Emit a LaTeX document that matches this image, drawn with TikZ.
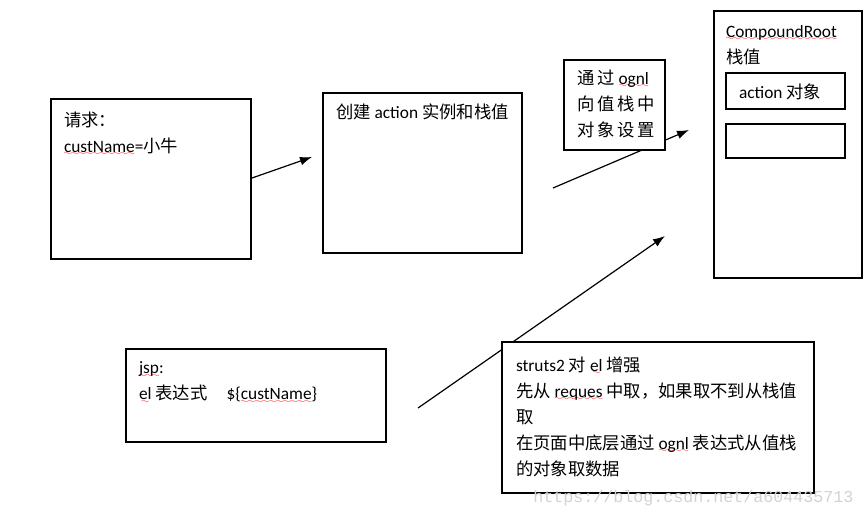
\documentclass[tikz,border=0pt]{standalone}
\usepackage{fontspec}
\setmainfont{Carlito}
\newfontfamily\cjk{Noto Sans CJK SC}
\newfontfamily\cjksp{Noto Sans CJK SC}[LetterSpace=17]
\newfontfamily\wmfont{Liberation Mono}
\usetikzlibrary{arrows.meta}
\font\wavefont=lasy6
\newlength\splw
\newcommand\spl[1]{\settowidth\splw{#1}\leavevmode\rlap{\lower2.5pt\hbox to\splw{\color{red}\xleaders\hbox{\wavefont\char58}\hfill}}#1}

\tikzset{
  box/.style={draw, fill=white, line width=0.8pt, inner sep=0pt, outer sep=0pt, anchor=north west},
  txt/.style={anchor=north west, inner sep=0pt, outer sep=0pt, align=left, font=\fontsize{13}{19.5}\selectfont},
  arr/.style={-{Latex[length=9pt,width=6.5pt]}, line width=0.9pt},
}

\begin{document}
\begin{tikzpicture}[x=0.75pt,y=0.75pt,yscale=-1,xscale=1]
\useasboundingbox (0,0) rectangle (863,518);

%Straight Lines
\coordinate (reqout) at (252,178);
\coordinate (crtin) at (312,157);
\draw [arr] (reqout) -- (crtin);
%Straight Lines
\coordinate (crtout) at (553,188);
\coordinate (rootin) at (689,130);
\draw [arr] (crtout) -- (rootin);
%Straight Lines
\coordinate (jspout) at (418,408);
\coordinate (ognin) at (665,236);
\draw [arr] (jspout) -- (ognin);

%Shape: Rectangle
\node [box, minimum width=150pt, minimum height=120pt] (reqbox) at (51,99) {};
%Shape: Rectangle
\node [box, minimum width=149.25pt, minimum height=120pt] (crtbox) at (323,93) {};
%Shape: Rectangle
\node [box, minimum width=75.75pt, minimum height=67.5pt] (ognbox) at (564,60) {};
%Shape: Rectangle
\node [box, minimum width=111pt, minimum height=200.25pt] (rootbox) at (714,11) {};
%Shape: Rectangle
\node [box, minimum width=89.25pt, minimum height=27pt] (actbox) at (726,73) {};
%Shape: Rectangle
\node [box, minimum width=89.25pt, minimum height=25.5pt] (emptybox) at (726,124) {};
%Shape: Rectangle
\node [box, minimum width=195pt, minimum height=69.75pt] (jspbox) at (126,349) {};
%Shape: Rectangle
\node [box, minimum width=234pt, minimum height=113.25pt] (strbox) at (502,342) {};

% Text Node
\node [txt] (reqtxt) at (64,112) {{\cjk 请求：}\\\spl{custName}={\cjk 小牛}};
% Text Node
\node [txt] (crttxt) at (336,104) {{\cjk 创建} action {\cjk 实例和栈值}};
% Text Node
\node [txt] (ogntxt) at (577,70) {{\cjksp 通过} \spl{ognl}\\{\cjksp 向值栈中}\\{\cjksp 对象设置}};
% Text Node
\node [txt] (roottxt) at (726,25) {\spl{CompoundRoot}\\{\cjk 栈值}};
% Text Node
\node [txt] (acttxt) at (739,84) {action {\cjk 对象}};
% Text Node
\node [txt] (jsptxt) at (139,362) {\spl{jsp}:\\\spl{el} {\cjk 表达式}\hspace{1.1em}\$\{\spl{custName}\}};
% Text Node
\node [txt] (strtxt) at (516,357) {struts2 {\cjk 对} \spl{el} {\cjk 增强}\\{\cjk 先从} \spl{reques} {\cjk 中取，如果取不到从栈值}\\{\cjk 取}\\{\cjk 在页面中底层通过} \spl{ognl} {\cjk 表达式从值栈}\\{\cjk 的对象取数据}};

% Text Node
\node [anchor=base west, inner sep=0pt, text=gray!35, font=\wmfont\fontsize{12.5}{14}\selectfont] (wmark) at (533,502) {https://blog.csdn.net/a604435713};

\end{tikzpicture}
\end{document}
